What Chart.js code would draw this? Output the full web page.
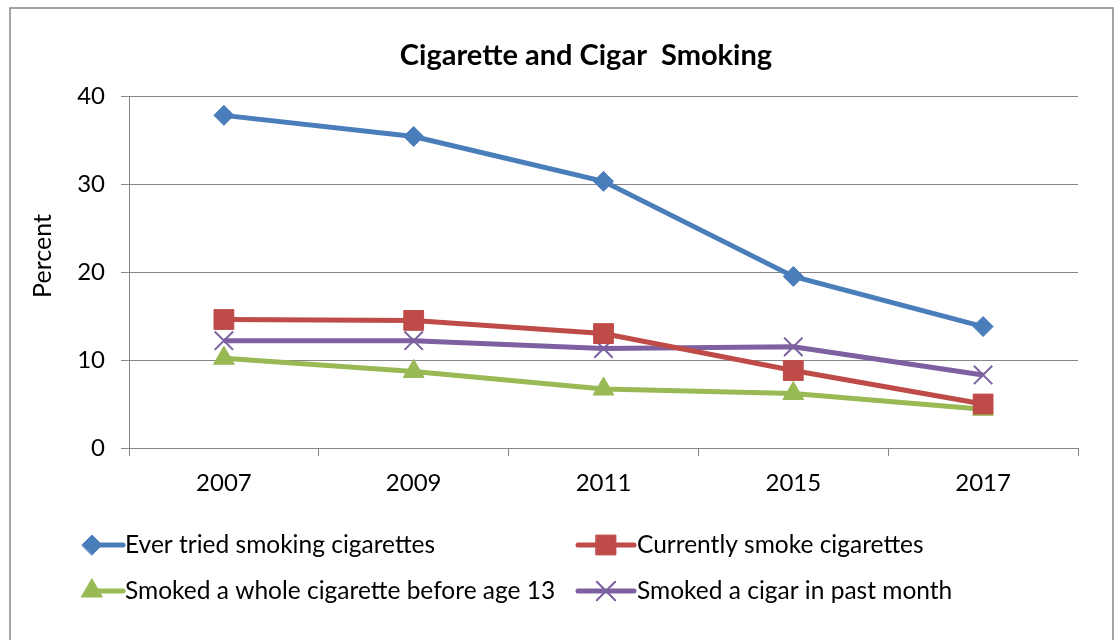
<!DOCTYPE html>
<html>
<head>
<meta charset="utf-8">
<script src="https://cdn.jsdelivr.net/npm/chart.js@4"></script>
<style>
  html, body { margin: 0; padding: 0; background: #fff; }
  #wrap { width: 1120px; height: 640px; position: relative; }
</style>
</head>
<body>
<div id="wrap"><canvas id="chart" width="1120" height="640"></canvas></div>
<script>
const years = ["2007", "2009", "2011", "2015", "2017"];
const everTried = [37.8, 35.4, 30.3, 19.5, 13.8];
const currentlySmoke = [14.6, 14.5, 13.0, 8.8, 5.0];
const before13 = [10.2, 8.7, 6.7, 6.2, 4.4];
const cigarMonth = [12.2, 12.2, 11.3, 11.5, 8.3];
const yTicks = [0, 10, 20, 30, 40];

const FONT = "Lato";
const GRID = "#868686";
const TITLE = "Cigarette and Cigar  Smoking";

const series = [
  { label: "Ever tried smoking cigarettes", data: everTried, color: "#4A7EBB", style: "rectRot", radius: 10 },
  { label: "Currently smoke cigarettes", data: currentlySmoke, color: "#BE4B48", style: "rect", radius: 14 },
  { label: "Smoked a whole cigarette before age 13", data: before13, color: "#98B954", style: "triangle", radius: 12 },
  { label: "Smoked a cigar in past month", data: cigarMonth, color: "#7D60A0", style: "crossRot", radius: 13 },
];

// legend slots: [line start, line end, marker x, text x, y]
const legendSlots = [
  [92, 123, 92, 125, 545],
  [578, 634, 606, 637, 545],
  [92, 123, 92, 125, 591],
  [578, 634, 606, 637, 591],
];

const extras = {
  id: "extras",
  beforeDraw(chart) {
    const ctx = chart.ctx;
    ctx.save();
    ctx.fillStyle = "#fff";
    ctx.fillRect(0, 0, chart.width, chart.height);
    ctx.strokeStyle = GRID;
    ctx.lineWidth = 1.5;
    ctx.strokeRect(10, 8, 1103, 700);
    ctx.restore();
  },
  afterDraw(chart) {
    const ctx = chart.ctx;

    // title
    ctx.save();
    ctx.fillStyle = "#000";
    ctx.font = "bold 29px " + FONT;
    ctx.textAlign = "center";
    ctx.textBaseline = "middle";
    ctx.fillText(TITLE, 586, 56);
    ctx.restore();

    // y axis title
    ctx.save();
    ctx.translate(43, 256);
    ctx.rotate(-Math.PI / 2);
    ctx.fillStyle = "#000";
    ctx.font = "25px " + FONT;
    ctx.textAlign = "center";
    ctx.textBaseline = "middle";
    ctx.fillText("Percent", 0, 0);
    ctx.restore();

    // legend
    series.forEach((s, i) => {
      const [x0, x1, mx, tx, y] = legendSlots[i];
      ctx.save();
      ctx.strokeStyle = s.color;
      ctx.lineWidth = 5;
      ctx.lineCap = "round";
      ctx.beginPath();
      ctx.moveTo(x0, y);
      ctx.lineTo(x1, y);
      ctx.stroke();
      ctx.fillStyle = s.color;
      ctx.strokeStyle = s.color;
      ctx.lineWidth = s.style === "crossRot" ? 2 : 1;
      Chart.helpers.drawPoint(ctx, { pointStyle: s.style, radius: s.radius, rotation: 0, borderWidth: ctx.lineWidth }, mx, y);
      ctx.fillStyle = "#000";
      ctx.font = "24.5px " + FONT;
      ctx.textAlign = "left";
      ctx.textBaseline = "middle";
      ctx.fillText(s.label, tx, y);
      ctx.restore();
    });
  },
};

new Chart(document.getElementById("chart"), {
  type: "line",
  data: {
    labels: years,
    datasets: series.map((s) => ({
      label: s.label,
      data: s.data,
      borderColor: s.color,
      backgroundColor: s.color,
      borderWidth: 5,
      pointStyle: s.style,
      pointRadius: s.radius,
      pointHoverRadius: s.radius,
      pointBorderWidth: s.style === "crossRot" ? 2 : 1,
      tension: 0,
    })),
  },
  options: {
    responsive: false,
    animation: false,
    layout: { padding: { top: 96, left: 20, right: 42, bottom: 10 } },
    plugins: {
      legend: { display: false },
      tooltip: { enabled: false },
      title: { display: false },
    },
    scales: {
      x: {
        offset: true,
        grid: { offset: true, drawOnChartArea: false, drawTicks: true, tickLength: 8, color: GRID, lineWidth: 1 },
        border: { color: GRID, width: 1 },
        ticks: { color: "#000", font: { family: FONT, size: 24 }, padding: 13 },
        afterFit(scale) { scale.height = 182; },
      },
      y: {
        min: 0,
        max: 40,
        afterBuildTicks(scale) { scale.ticks = yTicks.map((v) => ({ value: v })); },
        grid: { color: GRID, lineWidth: 1, tickLength: 8 },
        border: { color: GRID, width: 1 },
        ticks: { color: "#000", font: { family: FONT, size: 24 }, padding: 16 },
        afterFit(scale) { scale.width = 109; },
      },
    },
  },
  plugins: [extras],
});
</script>
</body>
</html>
